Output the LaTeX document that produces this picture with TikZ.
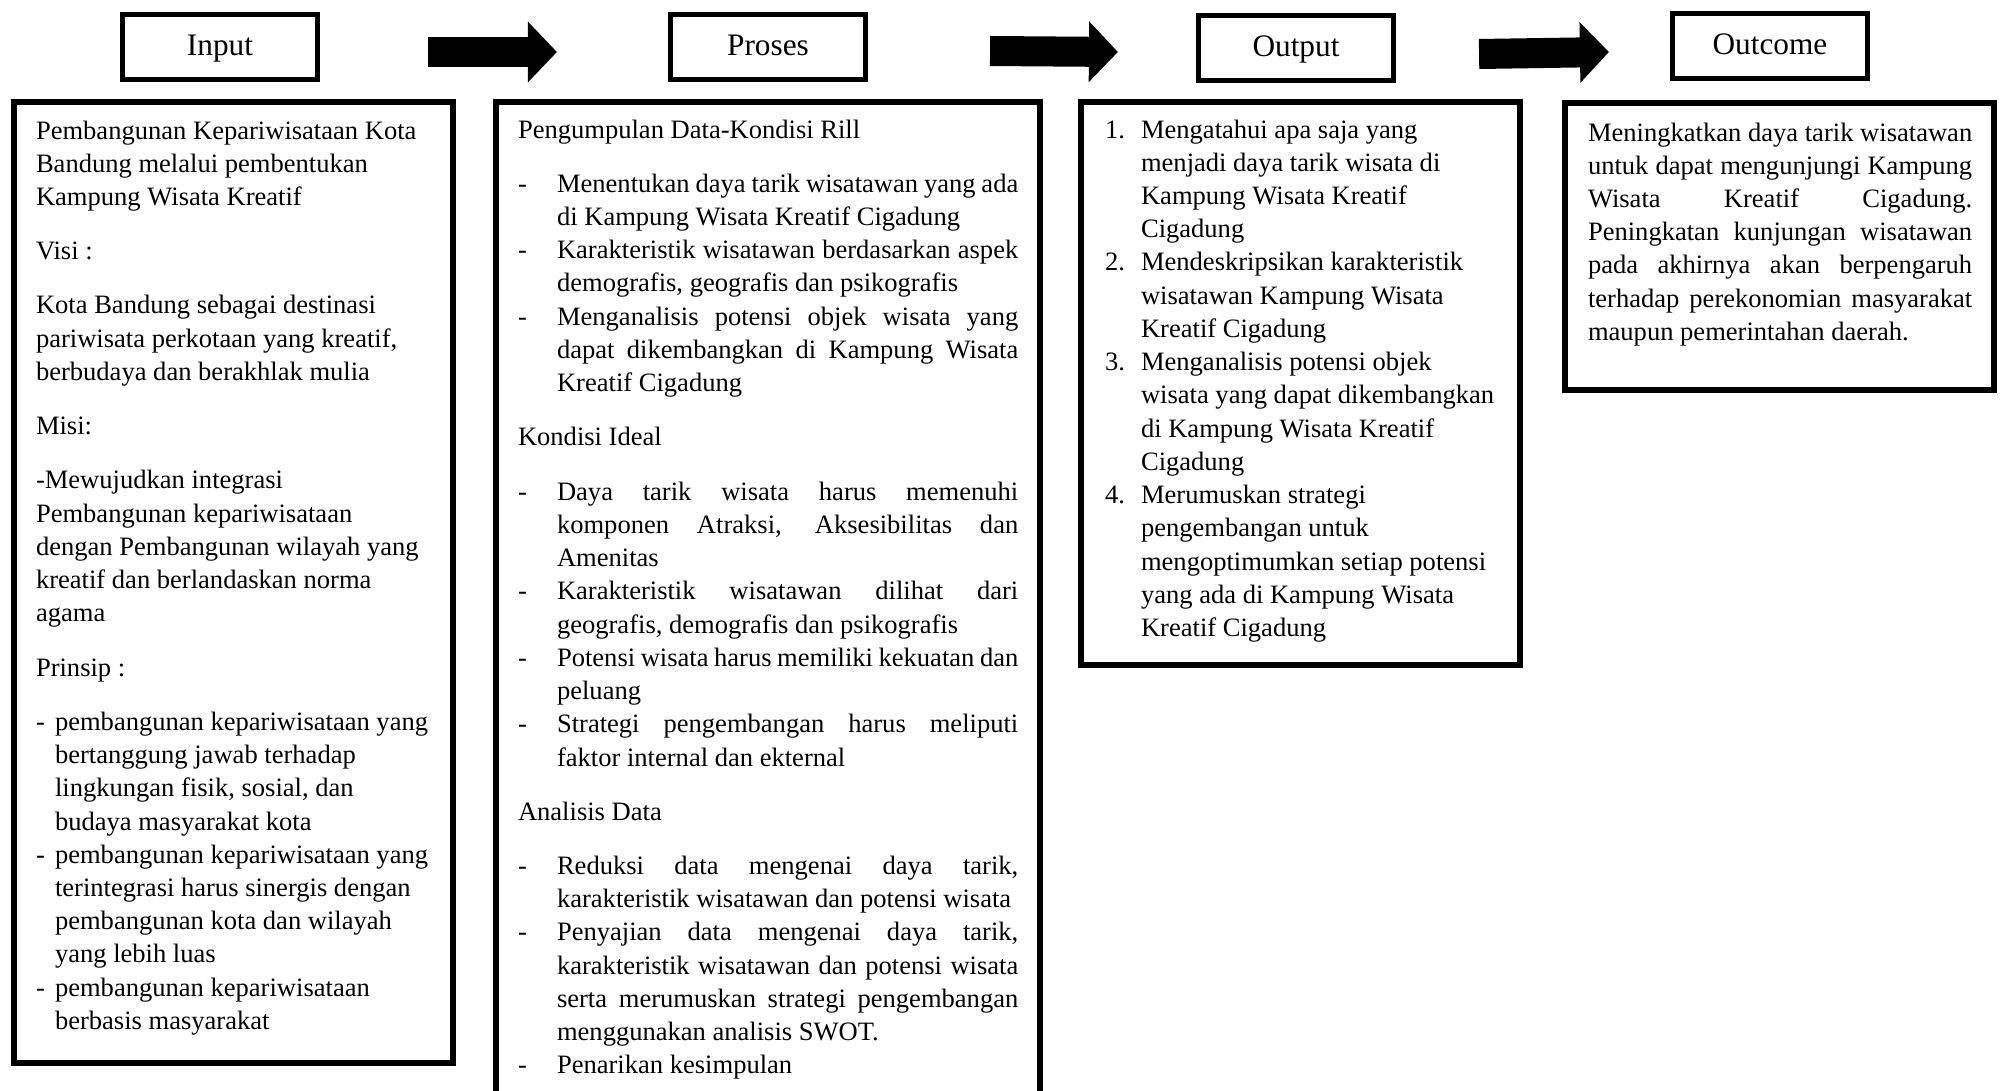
\documentclass[tikz,border=0pt]{standalone}
\usepackage{fontspec}
\setmainfont{Liberation Serif}
\usetikzlibrary{arrows.meta}
\newcommand{\headfont}{\fontsize{8.9}{10.7}\selectfont}
\newcommand{\bodyfont}{\fontsize{7.55}{9.45}\selectfont}
\newcommand{\boxtext}[3]{\parbox[c][#2][t]{#1}{\noindent\begin{tabular}{@{}l@{}}#3\end{tabular}}}
\newcommand{\justline}[2][4.61cm]{\makebox[#1][s]{#2}}
\newcommand{\prodash}{\makebox[0.39cm][l]{-}}
\newcommand{\proind}{\hspace*{0.39cm}}
\newcommand{\indash}{\makebox[0.19cm][l]{-}}
\newcommand{\inind}{\hspace*{0.19cm}}
\newcommand{\outnum}[1]{\makebox[0.36cm][l]{#1}}
\newcommand{\outind}{\hspace*{0.36cm}}

\begin{document}
\begin{tikzpicture}[
    x=0.01cm, y=-0.01cm,
    head/.style={rectangle, draw, line width=0.05cm, minimum width=1.95cm, minimum height=0.65cm, inner sep=0pt, text height=0.22cm, text depth=0.05cm, font=\headfont},
    bodybox/.style={rectangle, draw, line width=0.06cm, inner sep=0pt, outer sep=0pt, anchor=north west, font=\bodyfont},
    bigarrow/.style={line width=0.3cm, -{Triangle[length=0.29cm, width=0.59cm]}}
]
    \fill[white] (0,0) rectangle (2002,1091);
    \useasboundingbox (0,0) rectangle (2002,1091);
    \clip (0,0) rectangle (2002,1091);

    % header boxes
    \node[head] (inhead) at (220,47) {Input};
    \node[head] (proshead) at (768,47) {Proses};
    \node[head] (outhead) at (1296,48) {Output};
    \node[head] (outchead) at (1770,46) {Outcome};

    \draw[bigarrow] ([shift={(108,5)}]inhead.east) -- ([shift={(-111,5)}]proshead.west);
    \draw[bigarrow] ([shift={(122,4)}]proshead.east) -- ([shift={(-78,4)}]outhead.west);
    \draw[bigarrow] ([shift={(83,6)}]outhead.east) -- ([shift={(-61,6)}]outchead.west);

    % Input
    \node[bodybox, inner xsep=0.22cm, inner ysep=0.1375cm] (inbody) at (14,102) {\boxtext{3.95cm}{9.325cm}{%
        Pembangunan Kepariwisataan Kota\\
        Bandung melalui pembentukan\\
        Kampung Wisata Kreatif\\[0.21cm]
        Visi :\\[0.21cm]
        Kota Bandung sebagai destinasi\\
        pariwisata perkotaan yang kreatif,\\
        berbudaya dan berakhlak mulia\\[0.21cm]
        Misi:\\[0.21cm]
        -Mewujudkan integrasi\\
        Pembangunan kepariwisataan\\
        dengan Pembangunan wilayah yang\\
        kreatif dan berlandaskan norma\\
        agama\\[0.21cm]
        Prinsip :\\[0.21cm]
        \indash pembangunan kepariwisataan yang\\
        \inind bertanggung jawab terhadap\\
        \inind lingkungan fisik, sosial, dan\\
        \inind budaya masyarakat kota\\
        \indash pembangunan kepariwisataan yang\\
        \inind terintegrasi harus sinergis dengan\\
        \inind pembangunan kota dan wilayah\\
        \inind yang lebih luas\\
        \indash pembangunan kepariwisataan\\
        \inind berbasis masyarakat}};

    % Proses
    \node[bodybox, inner xsep=0.22cm, inner ysep=0.1275cm] (prosbody) at (496,102) {\boxtext{5.00cm}{9.945cm}{%
        Pengumpulan Data-Kondisi Rill\\[0.21cm]
        \prodash\justline{Menentukan daya tarik wisatawan yang ada}\\
        \proind di Kampung Wisata Kreatif Cigadung\\
        \prodash\justline{Karakteristik wisatawan berdasarkan aspek}\\
        \proind demografis, geografis dan psikografis\\
        \prodash\justline{Menganalisis potensi objek wisata yang}\\
        \proind\justline{dapat dikembangkan di Kampung Wisata}\\
        \proind Kreatif Cigadung\\[0.21cm]
        Kondisi Ideal\\[0.21cm]
        \prodash\justline{Daya tarik wisata harus memenuhi}\\
        \proind\justline{komponen Atraksi, Aksesibilitas dan}\\
        \proind Amenitas\\
        \prodash\justline{Karakteristik wisatawan dilihat dari}\\
        \proind geografis, demografis dan psikografis\\
        \prodash\justline{Potensi wisata harus memiliki kekuatan dan}\\
        \proind peluang\\
        \prodash\justline{Strategi pengembangan harus meliputi}\\
        \proind faktor internal dan ekternal\\[0.21cm]
        Analisis Data\\[0.21cm]
        \prodash\justline{Reduksi data mengenai daya tarik,}\\
        \proind karakteristik wisatawan dan potensi wisata\\
        \prodash\justline{Penyajian data mengenai daya tarik,}\\
        \proind\justline{karakteristik wisatawan dan potensi wisata}\\
        \proind\justline{serta merumuskan strategi pengembangan}\\
        \proind menggunakan analisis SWOT.\\
        \prodash Penarikan kesimpulan}};

    % Output
    \node[bodybox, inner xsep=0.24cm, inner ysep=0.1275cm] (outbody) at (1081,102) {\boxtext{3.91cm}{5.375cm}{%
        \outnum{1.}Mengatahui apa saja yang\\
        \outind menjadi daya tarik wisata di\\
        \outind Kampung Wisata Kreatif\\
        \outind Cigadung\\
        \outnum{2.}Mendeskripsikan karakteristik\\
        \outind wisatawan Kampung Wisata\\
        \outind Kreatif Cigadung\\
        \outnum{3.}Menganalisis potensi objek\\
        \outind wisata yang dapat dikembangkan\\
        \outind di Kampung Wisata Kreatif\\
        \outind Cigadung\\
        \outnum{4.}Merumuskan strategi\\
        \outind pengembangan untuk\\
        \outind mengoptimumkan setiap potensi\\
        \outind yang ada di Kampung Wisata\\
        \outind Kreatif Cigadung}};

    % Outcome
    \node[bodybox, inner xsep=0.23cm, inner ysep=0.1475cm] (outcbody) at (1565,103) {\boxtext{3.83cm}{2.575cm}{%
        \justline[3.84cm]{Meningkatkan daya tarik wisatawan}\\
        \justline[3.84cm]{untuk dapat mengunjungi Kampung}\\
        \justline[3.84cm]{Wisata Kreatif Cigadung.}\\
        \justline[3.84cm]{Peningkatan kunjungan wisatawan}\\
        \justline[3.84cm]{pada akhirnya akan berpengaruh}\\
        \justline[3.84cm]{terhadap perekonomian masyarakat}\\
        maupun pemerintahan daerah.}};
\end{tikzpicture}
\end{document}
